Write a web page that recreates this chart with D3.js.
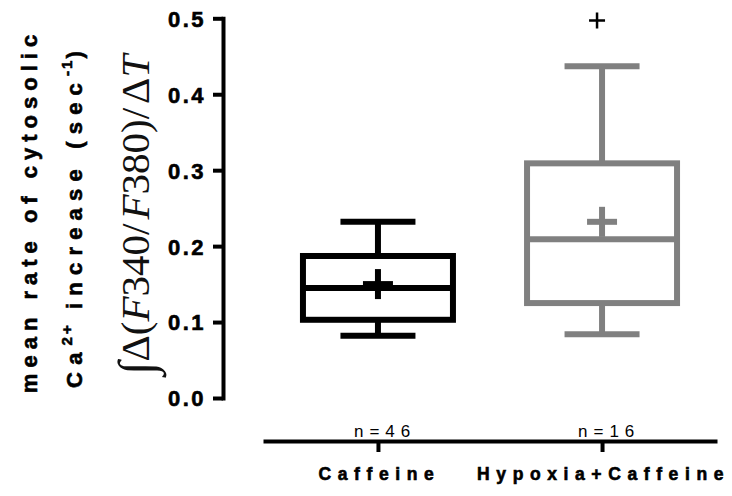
<!DOCTYPE html>
<html>
<head>
<meta charset="utf-8">
<script src="https://cdn.jsdelivr.net/npm/d3@7"></script>
<style>
  body { margin: 0; background: #fff; }
  svg { display: block; }
  .lbl { font-family: "Liberation Sans", Arial, sans-serif; }
  .heavy { stroke: #000; stroke-width: 0.6px; }
</style>
</head>
<body>
<div id="chart"></div>
<script>
// data
const groups = ["Caffeine", "Hypoxia+Caffeine"];
const nLabels = ["n=46", "n=16"];
const whiskerLow = [0.082, 0.084];
const q1 = [0.103, 0.125];
const median = [0.145, 0.209];
const q3 = [0.187, 0.309];
const whiskerHigh = [0.232, 0.437];
const means = [0.150, 0.232];
const outliers = [[], [0.497]];
const colors = ["#000000", "#808080"];
const yTicks = [0, 0.1, 0.2, 0.3, 0.4, 0.5];

const width = 732, height = 496;

const svg = d3.select("#chart").append("svg")
  .attr("width", width)
  .attr("height", height);

// scales
const y = d3.scaleLinear().domain([0, 0.5]).range([398, 18.3]);
const x = d3.scalePoint().domain(groups).range([263, 717]).padding(0.513);

// y axis
const yAxis = svg.append("g")
  .attr("transform", "translate(223,0)")
  .call(d3.axisLeft(y).tickValues(yTicks).tickFormat(d3.format(".1f")).tickSize(10).tickSizeOuter(0).tickPadding(7));
yAxis.select(".domain").attr("stroke", "#000").attr("stroke-width", 4).attr("stroke-linecap", "square");
yAxis.selectAll(".tick line").attr("stroke", "#000").attr("stroke-width", 4);
yAxis.selectAll(".tick text")
  .attr("class", "lbl heavy")
  .style("font-size", "22px")
  .style("font-weight", "bold")
  .style("letter-spacing", "2.5px")
  .attr("fill", "#000")
  .attr("dy", "0.36em");

// x axis
const xAxis = svg.append("g")
  .attr("transform", "translate(0,441)")
  .call(d3.axisBottom(x).tickSize(11).tickSizeOuter(0).tickPadding(16));
xAxis.select(".domain").attr("stroke", "#000").attr("stroke-width", 4);
xAxis.selectAll(".tick text")
  .attr("class", "lbl heavy")
  .attr("dx", 1)
  .style("font-size", "17.5px")
  .style("font-weight", "bold")
  .style("letter-spacing", "6.6px")
  .attr("fill", "#000");
xAxis.selectAll(".tick line").attr("stroke", "#000").attr("stroke-width", 4);

// n labels
svg.selectAll(".nlab")
  .data(groups)
  .join("text")
  .attr("class", "lbl nlab")
  .attr("x", d => x(d) - 24)
  .attr("y", 437)
  .style("font-size", "17px")
  .style("letter-spacing", "6px")
  .text((d, i) => nLabels[i]);

// boxes
const half = 75, capHalf = 37.5, meanHalf = 15;
const box = svg.selectAll(".box")
  .data(groups)
  .join("g")
  .attr("class", "box")
  .attr("stroke", (d, i) => colors[i])
  .attr("stroke-width", 6)
  .attr("fill", "none");

box.append("line")
  .attr("x1", d => x(d)).attr("x2", d => x(d))
  .attr("y1", (d, i) => y(whiskerHigh[i])).attr("y2", (d, i) => y(q3[i]));
box.append("line")
  .attr("x1", d => x(d)).attr("x2", d => x(d))
  .attr("y1", (d, i) => y(q1[i])).attr("y2", (d, i) => y(whiskerLow[i]));
box.append("line")
  .attr("x1", d => x(d) - capHalf).attr("x2", d => x(d) + capHalf)
  .attr("y1", (d, i) => y(whiskerHigh[i])).attr("y2", (d, i) => y(whiskerHigh[i]));
box.append("line")
  .attr("x1", d => x(d) - capHalf).attr("x2", d => x(d) + capHalf)
  .attr("y1", (d, i) => y(whiskerLow[i])).attr("y2", (d, i) => y(whiskerLow[i]));
box.append("rect")
  .attr("x", d => x(d) - half)
  .attr("width", half * 2)
  .attr("y", (d, i) => y(q3[i]))
  .attr("height", (d, i) => y(q1[i]) - y(q3[i]));
box.append("line")
  .attr("x1", d => x(d) - half).attr("x2", d => x(d) + half)
  .attr("y1", (d, i) => y(median[i])).attr("y2", (d, i) => y(median[i]));
// mean marker
box.append("line")
  .attr("x1", d => x(d) - meanHalf).attr("x2", d => x(d) + meanHalf)
  .attr("y1", (d, i) => y(means[i])).attr("y2", (d, i) => y(means[i]));
box.append("line")
  .attr("x1", d => x(d)).attr("x2", d => x(d))
  .attr("y1", (d, i) => y(means[i]) - meanHalf).attr("y2", (d, i) => y(means[i]) + meanHalf);

// outliers
groups.forEach((g, i) => {
  outliers[i].forEach(v => {
    const cx = x(g) - 5, cy = y(v);
    svg.append("path")
      .attr("d", `M${cx - 8},${cy}H${cx + 8}M${cx},${cy - 8}V${cy + 8}`)
      .attr("stroke", "#000")
      .attr("stroke-width", 2.5);
  });
});

// y axis titles
svg.append("text")
  .attr("class", "lbl heavy")
  .attr("transform", "translate(37,211) rotate(-90)")
  .attr("text-anchor", "middle")
  .style("font-size", "22px")
  .style("font-weight", "bold")
  .style("letter-spacing", "6px")
  .text("mean rate of cytosolic");

const t2 = svg.append("text")
  .attr("class", "lbl heavy")
  .attr("transform", "translate(82,216) rotate(-90)")
  .attr("text-anchor", "middle")
  .style("font-size", "22px")
  .style("font-weight", "bold")
  .style("letter-spacing", "7.2px");
t2.append("tspan").text("Ca");
t2.append("tspan").attr("dy", -10).style("font-size", "15px").style("letter-spacing", "3px").text("2+");
t2.append("tspan").attr("dy", 10).text(" increase (sec");
t2.append("tspan").attr("dy", -10).style("font-size", "15px").style("letter-spacing", "2px").text("-1");
t2.append("tspan").attr("dy", 10).text(")");

const t3 = svg.append("text")
  .attr("transform", "translate(149,215) rotate(-90)")
  .attr("text-anchor", "middle")
  .style("font-family", "'Liberation Serif', 'Times New Roman', serif")
  .style("font-size", "41px")
  .attr("fill", "#111");
t3.append("tspan").style("font-size", "50px").attr("dy", 4).text("\u222B");
t3.append("tspan").attr("dy", -4).text("\u0394(");
t3.append("tspan").style("font-style", "italic").text("F");
t3.append("tspan").text("340/");
t3.append("tspan").attr("dx", 4).style("font-style", "italic").text("F");
t3.append("tspan").text("380)/");
t3.append("tspan").attr("dx", 4).text("\u0394");
t3.append("tspan").style("font-style", "italic").text("T");
</script>
</body>
</html>
